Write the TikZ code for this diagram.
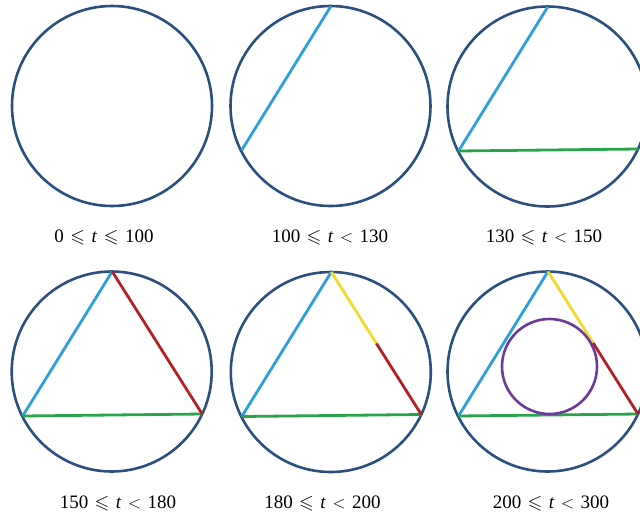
\documentclass[tikz,border=0pt]{standalone}
\usepackage{amssymb}
\usepackage{fontspec}
\setmainfont{Liberation Serif}
\usetikzlibrary{calc}
\definecolor{ringblue}{HTML}{2B4F7E}
\definecolor{chordblue}{HTML}{2E9FD8}
\definecolor{chordgreen}{HTML}{27A54A}
\definecolor{chordred}{HTML}{B52025}
\definecolor{chordyellow}{HTML}{F2DA2C}
\definecolor{ringpurple}{HTML}{6B3A9A}
\newcommand{\capsp}{\hspace{0.34em}}
\newcommand{\lbl}[4]{#1\capsp$#2$\capsp\textit{t}\capsp$#3$\capsp#4}
\begin{document}
\begin{tikzpicture}[x=1pt,y=-1pt,
  ring/.style={draw=ringblue,line width=2.6pt},
  chord/.style={line width=2.8pt},
  inring/.style={draw=ringpurple,line width=2.6pt},
  caption/.style={font=\fontsize{19}{22}\selectfont,inner sep=0pt,anchor=base}]
\useasboundingbox (0,0) rectangle (640,515);
\clip (0,0) rectangle (640,515);
% centres
\coordinate (c1) at (112,106);
\coordinate (c2) at (330.5,106);
\coordinate (c3) at (547.5,106.5);
\coordinate (c4) at (111.7,371.5);
\coordinate (c5) at (330.8,372);
\coordinate (c6) at (547.5,371.5);
% vertices
\foreach \i in {2,...,6}{
  \coordinate (t\i) at ($(c\i)+(0.5,-100)$);
  \coordinate (l\i) at ($(c\i)+(-89,44.5)$);
  \coordinate (r\i) at ($(c\i)+(90.5,42.5)$);
  \coordinate (m\i) at ($(t\i)!0.5!(r\i)$);
}
% circles
\foreach \i in {1,...,6}{ \draw[ring] (c\i) circle[radius=100]; }
% panel 2
\draw[chord,chordblue] (t2) -- (l2);
% panel 3
\draw[chord,chordblue] (t3) -- (l3);
\draw[chord,chordgreen] (l3) -- (r3);
% panel 4
\draw[chord,chordblue] (t4) -- (l4);
\draw[chord,chordgreen] (l4) -- (r4);
\draw[chord,chordred] (t4) -- (r4);
% panel 5
\draw[chord,chordblue] (t5) -- (l5);
\draw[chord,chordgreen] (l5) -- (r5);
\draw[chord,chordred] (m5) -- (r5);
\draw[chord,chordyellow] (t5) -- (m5);
% panel 6
\draw[chord,chordblue] (t6) -- (l6);
\draw[chord,chordgreen] (l6) -- (r6);
\draw[chord,chordred] (m6) -- (r6);
\draw[chord,chordyellow] (t6) -- (m6);
\draw[inring] ($(c6)+(2,-5)$) circle[radius=47.5];
% captions
\node[caption] (cap1) at (104,242) {\lbl{0}{\leqslant}{\leqslant}{100}};
\node[caption] (cap2) at (330,242) {\lbl{100}{\leqslant}{<}{130}};
\node[caption] (cap3) at (544,242) {\lbl{130}{\leqslant}{<}{150}};
\node[caption] (cap4) at (118,508) {\lbl{150}{\leqslant}{<}{180}};
\node[caption] (cap5) at (322.5,508) {\lbl{180}{\leqslant}{<}{200}};
\node[caption] (cap6) at (551,508) {\lbl{200}{\leqslant}{<}{300}};
\end{tikzpicture}
\end{document}
